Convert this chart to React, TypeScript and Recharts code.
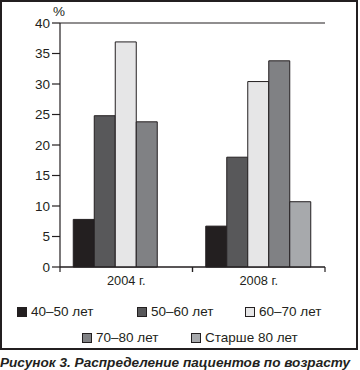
import React from 'react'
import {
  BarChart,
  Bar,
  XAxis,
  YAxis,
  CartesianGrid,
} from 'recharts'

const years = ['2004 г.', '2008 г.']
const age40to50 = [7.8, 6.7]
const age50to60 = [24.8, 18.0]
const age60to70 = [36.9, 30.4]
const age70to80 = [23.8, 33.8]
const ageOver80 = [0, 10.7]
const yTicks = [0, 5, 10, 15, 20, 25, 30, 35, 40]

const seriesNames = ['40–50 лет', '50–60 лет', '60–70 лет', '70–80 лет', 'Старше 80 лет']
const seriesColors = ['#231f20', '#58585a', '#e6e6e7', '#808184', '#a7a9ac']

const chartData = years.map((year, i) => ({
  year,
  s0: age40to50[i],
  s1: age50to60[i],
  s2: age60to70[i],
  s3: age70to80[i],
  s4: ageOver80[i] || null,
}))

const INK = '#231f20'
const FONT = '"Liberation Sans", Arial, sans-serif'
const CHART_W = 356
const PLOT_LEFT = 60
const PLOT_RIGHT = 325
const HALF_BAND = (PLOT_RIGHT - PLOT_LEFT) / years.length / 2

// category ticks sit on the band edges, label in the middle
const YearTick = (props: any) => {
  const { x, y, payload } = props
  return (
    <g>
      <line x1={x - HALF_BAND} y1={y - 8} x2={x - HALF_BAND} y2={y - 3} stroke={INK} strokeWidth={1.2} />
      <line x1={x + HALF_BAND} y1={y - 8} x2={x + HALF_BAND} y2={y - 3} stroke={INK} strokeWidth={1.2} />
      <text x={x} y={y + 10} textAnchor="middle" fontSize={12.8} fill={INK} fontFamily={FONT}>
        {payload.value}
      </text>
    </g>
  )
}

const LegendItem = ({ i, left, top }: { i: number; left: number; top: number }) => (
  <div
    style={{
      position: 'absolute',
      left,
      top,
      display: 'flex',
      alignItems: 'center',
      fontSize: 13.5,
      lineHeight: '14px',
      whiteSpace: 'nowrap',
    }}
  >
    <span
      style={{
        width: 8,
        height: 8,
        background: seriesColors[i],
        border: `1px solid ${INK}`,
        marginRight: 4,
        display: 'inline-block',
      }}
    />
    {seriesNames[i]}
  </div>
)

export default function App() {
  return (
    <div
      style={{
        position: 'fixed',
        left: 0,
        top: 0,
        width: 360,
        height: 370,
        background: '#fff',
        fontFamily: FONT,
        color: INK,
      }}
    >
      <div
        style={{
          position: 'absolute',
          left: 0,
          top: 0,
          width: 354,
          height: 346,
          border: `2px solid ${INK}`,
        }}
      />
      <div style={{ position: 'absolute', left: 53, top: 4, fontSize: 13.5 }}>%</div>

      <div style={{ position: 'absolute', left: 0, top: 0 }}>
        <BarChart
          width={CHART_W}
          height={295}
          data={chartData}
          margin={{ top: 23, right: CHART_W - PLOT_RIGHT, left: 0, bottom: 0 }}
          barGap={0}
          barCategoryGap="10%"
        >
          <CartesianGrid vertical={false} stroke={INK} strokeWidth={1.2} />
          <XAxis
            dataKey="year"
            axisLine={{ stroke: INK, strokeWidth: 1.2 }}
            tickLine={false}
            tick={<YearTick />}
            height={28}
            interval={0}
          />
          <YAxis
            yAxisId="left"
            domain={[0, 40]}
            ticks={yTicks}
            width={PLOT_LEFT}
            interval={0}
            axisLine={{ stroke: INK, strokeWidth: 1.2 }}
            tickLine={{ stroke: INK, strokeWidth: 1.2 }}
            tickSize={8}
            tickMargin={2}
            tick={{ fontSize: 13.5, fill: INK, fontFamily: FONT }}
          />
          <YAxis
            yAxisId="right"
            orientation="right"
            domain={[0, 40]}
            width={0}
            tick={false}
            tickLine={false}
            axisLine={{ stroke: INK, strokeWidth: 1.2 }}
          />
          {['s0', 's1', 's2', 's3', 's4'].map((key, i) => (
            <Bar
              key={key}
              yAxisId="left"
              dataKey={key}
              name={seriesNames[i]}
              fill={seriesColors[i]}
              stroke={INK}
              strokeWidth={1}
              isAnimationActive={false}
            />
          ))}
        </BarChart>
      </div>

      <LegendItem i={0} left={17} top={305} />
      <LegendItem i={1} left={137} top={305} />
      <LegendItem i={2} left={245} top={305} />
      <LegendItem i={3} left={82} top={331} />
      <LegendItem i={4} left={191} top={331} />

      <div
        style={{
          position: 'absolute',
          left: 0,
          top: 356,
          fontSize: 13.6,
          lineHeight: '14px',
          fontWeight: 'bold',
          fontStyle: 'italic',
          whiteSpace: 'nowrap',
        }}
      >
        Рисунок 3. Распределение пациентов по возрасту
      </div>
    </div>
  )
}
